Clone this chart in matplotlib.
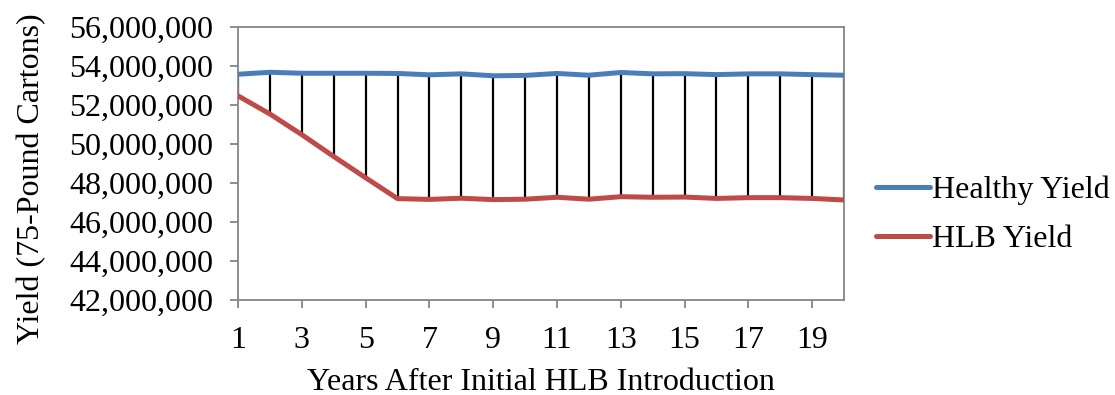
import matplotlib.pyplot as plt
from matplotlib.ticker import FuncFormatter

years = list(range(1, 21))
healthy_yield = [53.58, 53.68, 53.63, 53.63, 53.63, 53.62, 53.55, 53.60, 53.50, 53.52,
                 53.62, 53.53, 53.67, 53.60, 53.61, 53.56, 53.60, 53.60, 53.56, 53.53]
hlb_yield = [52.47, 51.54, 50.48, 49.36, 48.27, 47.20, 47.16, 47.22, 47.15, 47.17,
             47.27, 47.17, 47.30, 47.27, 47.28, 47.21, 47.25, 47.25, 47.21, 47.13]
healthy_yield = [v * 1e6 for v in healthy_yield]
hlb_yield = [v * 1e6 for v in hlb_yield]

plt.rcParams['font.family'] = ['Liberation Serif', 'DejaVu Serif']
fs = 23

fig = plt.figure(figsize=(11.15, 3.95), dpi=100)
ax = fig.add_axes([0.2135, 0.2405, 0.5435, 0.691])

# drop lines between the two series
ax.vlines(years, hlb_yield, healthy_yield, colors='black', linewidth=1.6, zorder=2)
ax.plot(years, healthy_yield, color='#4A7EBB', linewidth=3.6, label='Healthy Yield',
        solid_capstyle='round', zorder=3)
ax.plot(years, hlb_yield, color='#BE4B48', linewidth=3.6, label='HLB Yield',
        solid_capstyle='round', zorder=3)

ax.set_xlim(1, 20)
ax.set_ylim(42e6, 56e6)
ax.set_xticks(range(1, 20, 2))
ax.set_yticks(range(42000000, 56000001, 2000000))
ax.yaxis.set_major_formatter(FuncFormatter(lambda v, p: f'{int(v):,}'))

for s in ax.spines.values():
    s.set_color('#868686')
    s.set_linewidth(1.3)
ax.tick_params(axis='both', labelsize=fs, color='#868686', width=1.3, length=6)
ax.tick_params(axis='x', pad=13)
ax.tick_params(axis='y', pad=12)

ax.set_xlabel('Years After Initial HLB Introduction', fontsize=fs, labelpad=9)
ax.set_ylabel('Yield (75-Pound Cartons)', fontsize=fs)
ax.yaxis.set_label_coords(-0.316, 0.443)

ax.legend(loc='center left', bbox_to_anchor=(1.053, 0.313), frameon=False,
          fontsize=fs, handlelength=1.7, handletextpad=0.05, labelspacing=0.62,
          borderpad=0, borderaxespad=0)

fig.savefig('out.png', dpi=100)
